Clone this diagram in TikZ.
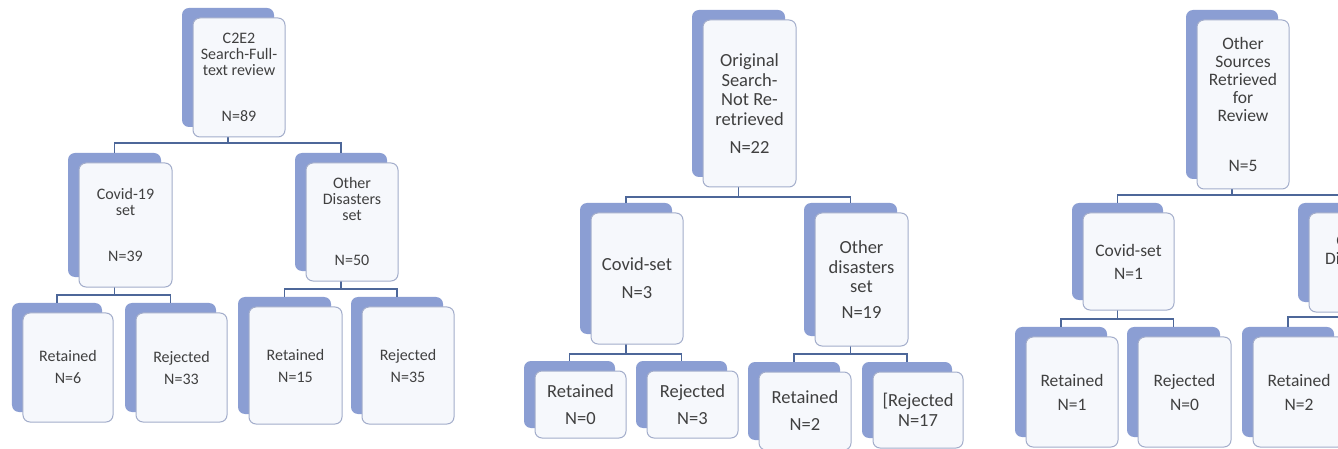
\documentclass[tikz,border=0pt]{standalone}
\usepackage{fontspec}
\setmainfont{Carlito}
\usetikzlibrary{calc,backgrounds}
\pgfdeclarelayer{bottom}
\pgfsetlayers{bottom,background,main}
\definecolor{backblue}{HTML}{8B9ED3}
\definecolor{frontfill}{HTML}{F6F8FC}
\definecolor{frontline}{HTML}{A3ADCB}
\definecolor{connblue}{HTML}{4D6799}
\definecolor{txt}{HTML}{404040}
\tikzset{
  front/.style={draw=frontline, line width=1bp, fill=frontfill, rounded corners=7bp,
    inner sep=0pt, outer sep=0pt, align=center, text=txt},
  back/.style={fill=backblue, rounded corners=7bp, inner sep=0pt, outer sep=0pt},
  conn/.style={draw=connblue, line width=1.6bp},
  tA/.style={font=\fontsize{16bp}{16bp}\selectfont},
  tB/.style={font=\fontsize{18.5bp}{19.5bp}\selectfont},
  tC/.style={font=\fontsize{17.5bp}{18bp}\selectfont}
}
\newcommand\card[7]{%
  \node[front,#1,minimum width=#5bp,minimum height=#6bp] (#2) at (#3,#4) {#7};
  \begin{pgfonlayer}{background}
    \node[back,minimum width=#5bp,minimum height=#6bp] (#2B) at ($(#2)+(-11,-10)$) {};
  \end{pgfonlayer}}
\newcommand\link[3]{%
  \draw[conn] (#1B.south |- #1.south) |- ($(#2B.north)+(0,-#3)$) -- (#2B.north);}
\begin{document}
\begin{tikzpicture}[x=1bp,y=-1bp]
\useasboundingbox (0,0) rectangle (1338,449);
\begin{pgfonlayer}{bottom}
  \fill[white] (0,0) rectangle (1338,449);
\end{pgfonlayer}
% Tree 1
\card{tA}{t1r}{239}{77.5}{92}{119}{C2E2\\Search-Full-\\text review\\[30bp]N=89}
\card{tA}{t1a}{125.5}{225}{93}{124}{Covid-19\\set\\[30bp]N=39}
\card{tA}{t1b}{352}{222}{92}{118}{Other\\Disasters\\set\\[29bp]N=50}
\card{tA}{t1aa}{68}{367.5}{90}{109}{Retained\\[6bp]N=6}
\card{tA}{t1ab}{181.5}{367.5}{91}{109}{Rejected\\[6bp]N=33}
\card{tA}{t1ba}{295.5}{365.5}{93}{117}{Retained\\[6bp]N=15}
\card{tA}{t1bb}{408}{365.5}{92}{117}{Rejected\\[6bp]N=35}
% Tree 2
\card{tB}{t2r}{749.5}{103.5}{93}{167}{Original\\Search-\\Not Re-\\retrieved\\[8.5bp]N=22}
\card{tB}{t2a}{637}{278.5}{92}{131}{Covid-set\\[8.5bp]N=3}
\card{tB}{t2b}{861.5}{279.5}{93}{133}{Other\\disasters\\set\\[6bp]N=19}
\card{tB}{t2aa}{580.5}{404.5}{91}{67}{Retained\\[7bp]N=0}
\card{tB}{t2ab}{692.5}{404.5}{91}{67}{Rejected\\[7bp]N=3}
\card{tB}{t2ba}{805}{411}{92}{78}{Retained\\[7.5bp]N=2}
\card{tB}{t2bb}{918}{410}{90}{76}{[Rejected\\N=17}
% Tree 3
\card{tC}{t3r}{1243}{104.5}{92}{169}{Other\\Sources\\Retrieved\\for\\Review\\[32bp]N=5}
\card{tC}{t3a}{1128.5}{261.5}{91}{97}{Covid-set\\[5bp]N=1}
\card{tC}{t3b}{1355}{262.5}{92}{99}{}
\node[tC, text=txt, align=center] (t3bt) at (1357,249) {Other\\Disasters};
\card{tC}{t3aa}{1072}{392}{92}{110}{Retained\\[6bp]N=1}
\card{tC}{t3ab}{1184.5}{392}{93}{110}{Rejected\\[6bp]N=0}
\card{tC}{t3ba}{1299}{392}{92}{110}{Retained\\[6bp]N=2}
% connectors
\begin{pgfonlayer}{background}
  \link{t1r}{t1a}{10}
  \link{t1r}{t1b}{10}
  \link{t1a}{t1aa}{8}
  \link{t1a}{t1ab}{8}
  \link{t1b}{t1ba}{8}
  \link{t1b}{t1bb}{8}
  \link{t2r}{t2a}{6}
  \link{t2r}{t2b}{6}
  \link{t2a}{t2aa}{7}
  \link{t2a}{t2ab}{7}
  \link{t2b}{t2ba}{8}
  \link{t2b}{t2bb}{8}
  \link{t3r}{t3a}{8}
  \link{t3r}{t3b}{8}
  \link{t3a}{t3aa}{8}
  \link{t3a}{t3ab}{8}
  \link{t3b}{t3ba}{10}
\end{pgfonlayer}
\end{tikzpicture}
\end{document}
